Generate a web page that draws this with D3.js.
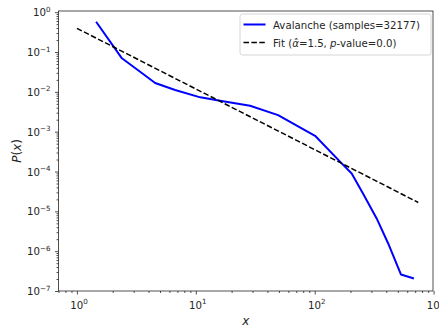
<!DOCTYPE html>
<html><head><meta charset="utf-8">
<script src="https://cdn.jsdelivr.net/npm/d3@7"></script>
<style>body{margin:0;background:#fff}svg{display:block}text{font-family:"DejaVu Sans",sans-serif;fill:#262626}</style>
</head><body><svg id="c" width="439" height="328"></svg>
<script>
// Data
const avalancheX = [1.45, 2.39, 3.40, 4.55, 6.70, 10.9, 16.0, 28.6, 49.2, 100.7, 168.6, 204.7, 254.7, 332, 415, 531, 683];
const avalancheY = [0.577, 0.0695, 0.032, 0.01664, 0.0111, 0.00728, 0.00598, 0.00448, 0.00261, 0.000789, 0.00016, 8.95e-5, 2.82e-5, 6.63e-6, 1.56e-6, 2.6e-7, 2.06e-7];
const fitX = [1, 743];
const fitY = [0.394, 1.67e-5];
const xMajorExp = [0, 1, 2, 3];
const yMajorExp = [-7, -6, -5, -4, -3, -2, -1, 0];
const legendLabels = ["Avalanche (samples=32177)", "Fit"];

const svg = d3.select("#c");
const L = 58.5, R = 433, T = 11, B = 291;
const x = d3.scaleLog().domain([Math.pow(10, -0.155), Math.pow(10, 2.995)]).range([L, R]);
const y = d3.scaleLog().domain([1e-7, Math.pow(10, 0.03)]).range([B, T]);

const ink = "#262626";
const fs = 10.2;

function minors(lo, hi) {
  const out = [];
  for (let e = Math.floor(Math.log10(lo)) - 1; e <= Math.ceil(Math.log10(hi)); e++)
    for (let m = 2; m <= 9; m++) { const v = m * Math.pow(10, e); if (v >= lo && v <= hi) out.push(v); }
  return out;
}
const xd = x.domain(), yd = y.domain();
svg.append("g").attr("transform", `translate(0,${B})`)
  .call(d3.axisBottom(x).tickValues(xMajorExp.map(e => Math.pow(10, e))).tickSize(3.5).tickFormat(""));
svg.append("g").attr("transform", `translate(0,${B})`)
  .call(d3.axisBottom(x).tickValues(minors(xd[0], xd[1])).tickSize(2).tickFormat(""));
svg.append("g").attr("transform", `translate(${L},0)`)
  .call(d3.axisLeft(y).tickValues(yMajorExp.map(e => Math.pow(10, e))).tickSize(3.5).tickFormat(""));
svg.append("g").attr("transform", `translate(${L},0)`)
  .call(d3.axisLeft(y).tickValues(minors(yd[0], yd[1])).tickSize(2).tickFormat(""));
svg.selectAll(".domain").remove();
svg.selectAll(".tick line").attr("stroke", ink).attr("stroke-width", 0.8);

function expLabel(g, e, xx, yy, anchor) {
  const t = g.append("text").attr("x", xx).attr("y", yy).attr("text-anchor", anchor).attr("font-size", fs);
  t.append("tspan").text("10");
  t.append("tspan").attr("font-size", fs * 0.7).attr("dy", -4.5).text(e < 0 ? "\u2212" + (-e) : String(e));
}
xMajorExp.forEach(e => expLabel(svg, e, x(Math.pow(10, e)) + 2, B + 17.5, "middle"));
yMajorExp.forEach(e => expLabel(svg, e, L - 8, y(Math.pow(10, e)) + 4, "end"));

svg.append("clipPath").attr("id", "cl").append("rect").attr("x", L).attr("y", T).attr("width", R - L).attr("height", B - T);
const line = d3.line().x(d => x(d[0])).y(d => y(d[1]));
svg.append("path").attr("clip-path", "url(#cl)").datum(avalancheX.map((v, i) => [v, avalancheY[i]]))
  .attr("d", line).attr("fill", "none").attr("stroke", "#0000ff").attr("stroke-width", 2).attr("stroke-linejoin", "round");
svg.append("path").attr("clip-path", "url(#cl)").datum(fitX.map((v, i) => [v, fitY[i]]))
  .attr("d", line).attr("fill", "none").attr("stroke", "#000").attr("stroke-width", 1.5).attr("stroke-dasharray", "5.5,2.4");

svg.append("rect").attr("x", L).attr("y", T).attr("width", R - L).attr("height", B - T)
  .attr("fill", "none").attr("stroke", ink).attr("stroke-width", 0.8);

svg.append("text").attr("x", (L + R) / 2).attr("y", 325).attr("text-anchor", "middle").attr("font-size", 12).attr("font-style", "italic").text("x");
const yl = svg.append("text").attr("transform", `translate(21,${(T + B) / 2}) rotate(-90)`).attr("text-anchor", "middle").attr("font-size", 12);
yl.append("tspan").attr("font-style", "italic").text("P");
yl.append("tspan").text("(");
yl.append("tspan").attr("font-style", "italic").text("x");
yl.append("tspan").text(")");

const lg = svg.append("g");
lg.append("rect").attr("x", 240).attr("y", 14).attr("width", 191).attr("height", 41).attr("rx", 2.5)
  .attr("fill", "#fff").attr("fill-opacity", 0.8).attr("stroke", "#cccccc").attr("stroke-width", 0.8);
lg.append("line").attr("x1", 243.5).attr("x2", 265.5).attr("y1", 24.5).attr("y2", 24.5).attr("stroke", "#0000ff").attr("stroke-width", 2);
lg.append("line").attr("x1", 243.5).attr("x2", 265.5).attr("y1", 42.5).attr("y2", 42.5).attr("stroke", "#000").attr("stroke-width", 1.5).attr("stroke-dasharray", "5.5,2.4");
lg.append("text").attr("x", 273).attr("y", 28.5).attr("font-size", fs).text(legendLabels[0]);
const t2 = lg.append("text").attr("x", 273).attr("y", 46.5).attr("font-size", fs);
t2.append("tspan").text(legendLabels[1] + " (");
t2.append("tspan").attr("font-style", "italic").text("\u03b1\u0302");
t2.append("tspan").text("=1.5, ");
t2.append("tspan").attr("font-style", "italic").text("p");
t2.append("tspan").text("-value=0.0)");
</script></body></html>
